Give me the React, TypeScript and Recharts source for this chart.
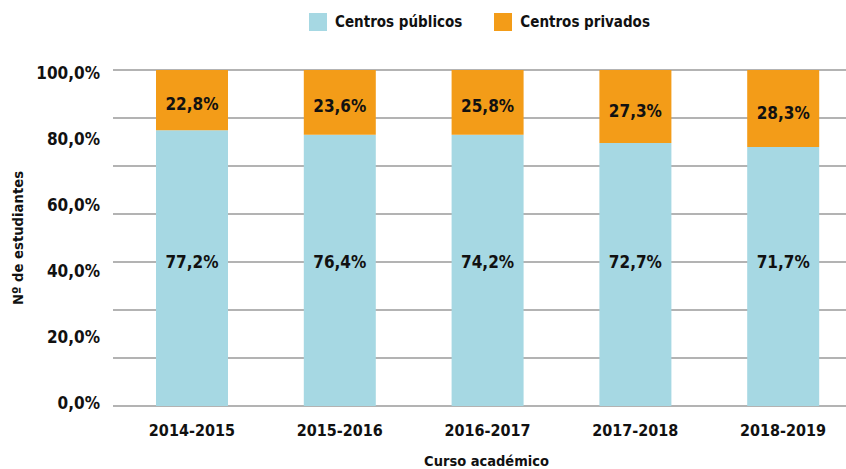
import React from 'react';
import { BarChart, Bar, XAxis, YAxis, CartesianGrid, Legend, LabelList } from 'recharts';

const categories = ['2014-2015', '2015-2016', '2016-2017', '2017-2018', '2018-2019'];
// printed percentages (labels)
const publicosLabel = [77.2, 76.4, 74.2, 72.7, 71.7];
const privadosLabel = [22.8, 23.6, 25.8, 27.3, 28.3];
// bar heights as drawn in the picture (share of the full bar)
const publicosBar = [82.1, 80.7, 80.7, 78.3, 77.1];
const privadosBar = [17.9, 19.3, 19.3, 21.7, 22.9];
const yTicks = [0, 20, 40, 60, 80, 100];
const gridTicks = [0, 1, 2, 3, 4, 5, 6, 7];

const data = categories.map((c, i) => ({
  curso: c,
  publicos: publicosBar[i],
  privados: privadosBar[i],
  publicosLabel: publicosLabel[i],
  privadosLabel: privadosLabel[i],
}));

const FONT = '"DejaVu Sans Condensed", "DejaVu Sans", sans-serif';
const BLUE = '#A6D8E3';
const ORANGE = '#F39C18';

const fmt = (v: number) => v.toFixed(1).replace('.', ',') + '%';

const PublicLabel = (props: any) => {
  const { x, y, width, height, value, index } = props;
  const bottom = y + height;
  const pxPerUnit = height / publicosBar[index];
  const cy = bottom - pxPerUnit * 42.9;
  return (
    <text x={x + width / 2} y={cy} textAnchor="middle" dominantBaseline="central"
      fontFamily={FONT} fontWeight="bold" fontSize={17} fill="#111">
      {fmt(value)}
    </text>
  );
};

const PrivateLabel = (props: any) => {
  const { x, y, width, height, value } = props;
  const cy = y + height * 0.56;
  return (
    <text x={x + width / 2} y={cy} textAnchor="middle" dominantBaseline="central"
      fontFamily={FONT} fontWeight="bold" fontSize={17} fill="#111">
      {fmt(value)}
    </text>
  );
};

const LegendContent = () => {
  const items = [
    { name: 'Centros públicos', color: BLUE },
    { name: 'Centros privados', color: ORANGE },
  ];
  return (
    <div style={{ display: 'flex', justifyContent: 'center', fontFamily: FONT, fontWeight: 'bold', fontSize: 15, color: '#111', lineHeight: '18px' }}>
      {items.map((it, i) => (
        <div key={it.name} style={{ display: 'flex', alignItems: 'center', marginLeft: i === 0 ? 0 : 32 }}>
          <div style={{ width: 18, height: 18, background: it.color, marginRight: 8 }} />
          <span>{it.name}</span>
        </div>
      ))}
    </div>
  );
};

export default function App() {
  return (
    <div style={{ position: 'absolute', left: 0, top: 0, width: 846, height: 469, background: '#fff' }}>
      <BarChart width={846} height={469} data={data} margin={{ top: 70, right: 0, bottom: 33, left: 0 }} barSize={72}>
        <YAxis yAxisId="ticks" domain={[0, 100]} ticks={yTicks} interval={0} allowDataOverflow type="number"
          axisLine={false} tickLine={false} width={113} tickMargin={7}
          padding={{ top: 3, bottom: 3 }}
          tickFormatter={(v: number) => fmt(v)}
          tick={{ fontFamily: FONT, fontWeight: 'bold', fontSize: 17, fill: '#111' }}
          label={{ value: 'Nº de estudiantes', angle: -90, position: 'insideLeft', offset: 0, dx: 18, fontFamily: FONT, fontWeight: 'bold', fontSize: 14.7, fill: '#111', style: { textAnchor: 'middle' } }} />
        <YAxis yAxisId="grid" hide width={0} domain={[0, 7]} ticks={gridTicks} interval={0} allowDataOverflow type="number" />
        <YAxis yAxisId="bars" hide width={0} domain={[0, 100]} allowDataOverflow type="number" />
        <CartesianGrid vertical={false} yAxisId="grid" stroke="#b3b3b3" strokeWidth={2} />
        <XAxis dataKey="curso" axisLine={false} tickLine={false} height={30} tickMargin={13}
          padding={{ left: 5, right: -11 }}
          tick={{ fontFamily: FONT, fontWeight: 'bold', fontSize: 16, fill: '#111' }}
          label={{ value: 'Curso académico', position: 'insideBottom', offset: -30, dx: 7, fontFamily: FONT, fontWeight: 'bold', fontSize: 14.5, fill: '#111' }} />
        <Legend layout="horizontal" verticalAlign="middle" align="center" content={<LegendContent />}
          wrapperStyle={{ top: 13, left: 113, width: 733 }} />
        <Bar yAxisId="bars" dataKey="publicos" name="Centros públicos" stackId="a" fill={BLUE} isAnimationActive={false}>
          <LabelList dataKey="publicosLabel" content={<PublicLabel />} />
        </Bar>
        <Bar yAxisId="bars" dataKey="privados" name="Centros privados" stackId="a" fill={ORANGE} isAnimationActive={false}>
          <LabelList dataKey="privadosLabel" content={<PrivateLabel />} />
        </Bar>
      </BarChart>
    </div>
  );
}
